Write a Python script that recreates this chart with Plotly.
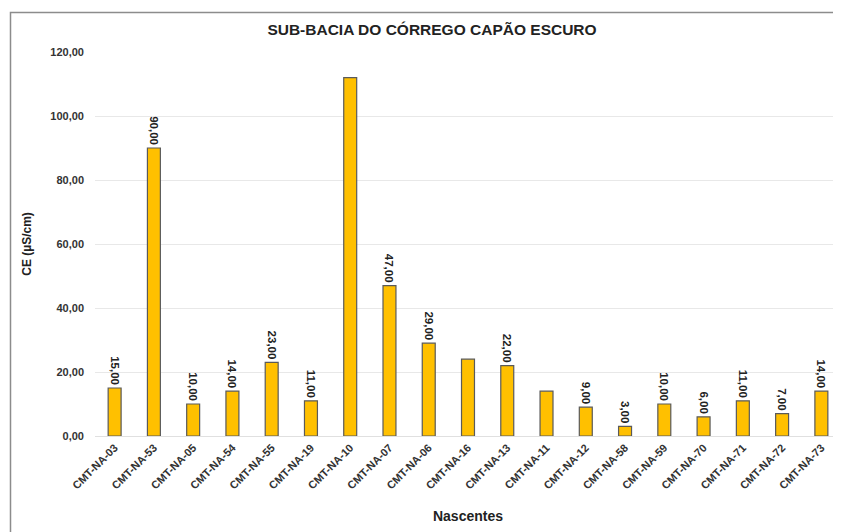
import plotly.graph_objects as go

categories = ["CMT-NA-03", "CMT-NA-53", "CMT-NA-05", "CMT-NA-54", "CMT-NA-55", "CMT-NA-19",
              "CMT-NA-10", "CMT-NA-07", "CMT-NA-06", "CMT-NA-16", "CMT-NA-13", "CMT-NA-11",
              "CMT-NA-12", "CMT-NA-58", "CMT-NA-59", "CMT-NA-70", "CMT-NA-71", "CMT-NA-72",
              "CMT-NA-73"]
values = [15, 90, 10, 14, 23, 11, 112, 47, 29, 24, 22, 14, 9, 3, 10, 6, 11, 7, 14]
show_label = [True, True, True, True, True, True, False, True, True, False, True, False,
              True, True, True, True, True, True, True]
y_ticks = [0, 20, 40, 60, 80, 100, 120]

labels = [f"<b>{v:.2f}</b>".replace(".", ",") if s else "" for v, s in zip(values, show_label)]
tick_text = [f"<b>{t:.2f}</b>".replace(".", ",") for t in y_ticks]
cat_text = [f"<b>{c}</b>" for c in categories]

FONT = "Liberation Sans, Arial, sans-serif"

fig = go.Figure(go.Bar(
    x=categories, y=values, text=labels, textposition="outside", textangle=90,
    textfont=dict(family=FONT, size=11.5, color="#222222"),
    marker=dict(color="#FFC000", line=dict(color="#5a5a5a", width=1.2)),
    cliponaxis=False,
))

# page body has an 8px margin; compensate so the figure lands at the reference positions
OFF = 8
W, H = 841 - OFF, 532 - OFF
L, R, T, B = 95 - OFF, 0, 52 - OFF, 96
pw, ph = W - L - R, H - T - B

fig.update_layout(
    width=W, height=H,
    margin=dict(l=L, r=R, t=T, b=B, autoexpand=False),
    paper_bgcolor="white", plot_bgcolor="white",
    bargap=0.67,
    showlegend=False,
    title=dict(text="<b>SUB-BACIA DO CÓRREGO CAPÃO ESCURO</b>", x=(432 - OFF) / W, xanchor="center",
               y=1 - (30 - OFF) / H, yanchor="middle",
               font=dict(family=FONT, size=15.5, color="#222222")),
    font=dict(family=FONT, color="#222222"),
    uniformtext=dict(minsize=11, mode="show"),
    shapes=[dict(type="rect", xref="paper", yref="paper",
                 x0=(10.5 - OFF - L) / pw, x1=1.05, y0=-0.5, y1=(H - B - (12.5 - OFF)) / ph,
                 line=dict(color="#8c8c8c", width=1.5), fillcolor="rgba(0,0,0,0)", layer="below")],
)

fig.update_yaxes(range=[0, 120], tickvals=y_ticks, ticktext=tick_text,
                 showgrid=True, gridcolor="#e8e8e8", gridwidth=1,
                 zeroline=False, showline=False, ticks="", ticklabelstandoff=10,
                 tickfont=dict(family=FONT, size=11, color="#333333"),
                 title=dict(text="<b>CE (µS/cm)</b>", standoff=16,
                            font=dict(family=FONT, size=12, color="#222222")))
fig.update_xaxes(tickangle=-45, showgrid=False, showline=True, linecolor="#e0e0e0",
                 tickvals=categories, ticktext=cat_text,
                 ticks="", tickfont=dict(family=FONT, size=11, color="#333333"),
                 title=dict(text="<b>Nascentes</b>", standoff=20,
                            font=dict(family=FONT, size=14, color="#222222")))

fig.write_html("out.html")
